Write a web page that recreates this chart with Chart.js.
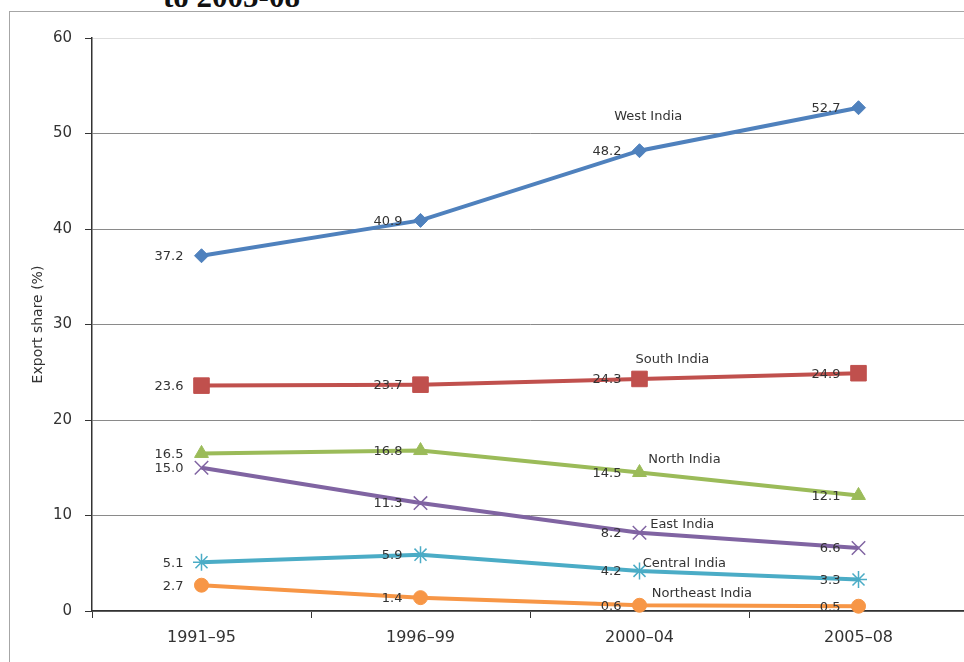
<!DOCTYPE html>
<html>
<head>
<meta charset="utf-8">
<script src="https://cdn.jsdelivr.net/npm/chart.js@4"></script>
<style>
  html, body { margin: 0; padding: 0; background: #fff; overflow: hidden; }
  #frame { position: absolute; left: 9px; top: 11px; width: 1000px; height: 700px; border: 1px solid #a6a6a6; }
  #title { position: absolute; left: 163px; top: -18px; font: bold 31px "Liberation Serif", serif; line-height: 30px; color: #111; white-space: nowrap; }
  #chart { position: absolute; left: 0; top: 0; }
</style>
</head>
<body>
<div id="frame"></div>
<div id="title">to 2005-08</div>
<canvas id="chart" width="968" height="662"></canvas>
<script>
// 데이터
const categories = ['1991–95', '1996–99', '2000–04', '2005–08'];
const westIndia = [37.2, 40.9, 48.2, 52.7];
const southIndia = [23.6, 23.7, 24.3, 24.9];
const northIndia = [16.5, 16.8, 14.5, 12.1];
const eastIndia = [15.0, 11.3, 8.2, 6.6];
const centralIndia = [5.1, 5.9, 4.2, 3.3];
const northeastIndia = [2.7, 1.4, 0.6, 0.5];
const seriesNames = ['West India', 'South India', 'North India', 'East India', 'Central India', 'Northeast India'];

const FONT = '"DejaVu Sans", sans-serif';
const TEXT = '#333';

// 시리즈 이름 라벨 위치 (category index, y value)
const nameSpots = [[2.04, 51.8], [2.15, 26.3], [2.205, 15.8], [2.195, 9.0], [2.205, 5.0], [2.285, 1.8]];

function series(label, data, color, style, radius, pbw) {
  return {
    label, data,
    borderColor: color, backgroundColor: color,
    borderWidth: 4,
    pointStyle: style, pointRadius: radius, pointHoverRadius: radius,
    pointBackgroundColor: color, pointBorderColor: color, pointBorderWidth: pbw,
    tension: 0, clip: false,
  };
}

/** 각 점 왼쪽에 값 라벨, 선 옆에 시리즈 이름 */
const labelPlugin = {
  id: 'labels',
  afterDatasetsDraw(chart) {
    const ctx = chart.ctx;
    const xs = chart.scales.x, ys = chart.scales.y;
    ctx.save();
    ctx.font = '13px ' + FONT;
    ctx.fillStyle = TEXT;
    ctx.textAlign = 'right';
    ctx.textBaseline = 'middle';
    chart.data.datasets.forEach((ds, i) => {
      chart.getDatasetMeta(i).data.forEach((pt, j) => {
        ctx.fillText(ds.data[j].toFixed(1), pt.x - 18, pt.y + 1);
      });
    });
    ctx.textAlign = 'center';
    seriesNames.forEach((name, i) => {
      const [ix, v] = nameSpots[i];
      ctx.fillText(name, xs.getPixelForValue(ix), ys.getPixelForValue(v));
    });
    ctx.restore();
  },
};

new Chart(document.getElementById('chart'), {
  type: 'line',
  data: {
    labels: categories,
    datasets: [
      series(seriesNames[0], westIndia, '#4F81BD', 'rectRot', 7, 1),
      series(seriesNames[1], southIndia, '#C0504D', 'rect', 11, 1),
      series(seriesNames[2], northIndia, '#9BBB59', 'triangle', 8, 1),
      series(seriesNames[3], eastIndia, '#8064A2', 'crossRot', 9.5, 1.5),
      series(seriesNames[4], centralIndia, '#4BACC6', 'star', 8.5, 1.5),
      series(seriesNames[5], northeastIndia, '#F79646', 'circle', 7, 1),
    ],
  },
  options: {
    responsive: false,
    animation: false,
    layout: { autoPadding: false, padding: { top: 38, right: 0, left: 0, bottom: 0 } },
    plugins: { legend: { display: false }, tooltip: { enabled: false } },
    scales: {
      x: {
        offset: true,
        grid: { offset: true, drawOnChartArea: false, tickLength: 7, color: '#333', tickColor: '#333' },
        border: { color: '#333', width: 1.5 },
        ticks: { color: TEXT, font: { family: FONT, size: 16 }, padding: 10, maxRotation: 0 },
        afterFit(scale) { scale.height = 51; },
      },
      y: {
        min: 0, max: 60,
        grid: {
          color: (c) => (c.tick && c.tick.value === 60 ? '#dedede' : '#8a8a8a'),
          tickColor: '#333', tickLength: 7, lineWidth: 1,
        },
        border: { color: '#333', width: 1.5 },
        ticks: { stepSize: 10, color: TEXT, font: { family: FONT, size: 15 }, padding: 13 },
        title: { display: true, text: 'Export share (%)', color: TEXT, font: { family: FONT, size: 14 }, padding: { top: 30, bottom: 0 } },
        afterFit(scale) { scale.width = 92; },
      },
    },
  },
  plugins: [labelPlugin],
});
</script>
</body>
</html>
